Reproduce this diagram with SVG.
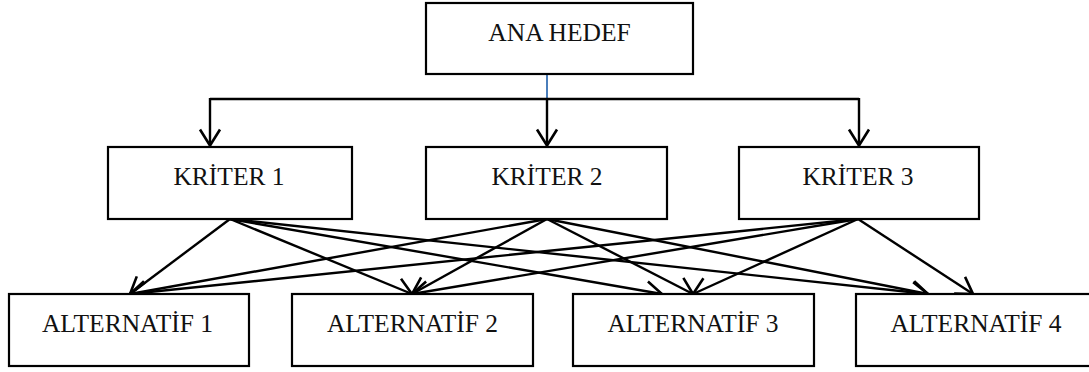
<svg xmlns="http://www.w3.org/2000/svg" width="1089" height="372" viewBox="0 0 1089 372">
<style>
.box{fill:#fff;stroke:#000;stroke-width:2.2}
.lbl{font-family:"Liberation Serif","Times New Roman",serif;font-size:25.5px;fill:#111;text-anchor:middle}
.ln{stroke:#000;stroke-width:2.4;fill:none}
.arr{stroke:#000;stroke-width:2.4;fill:none;marker-end:url(#ah)}
</style>
<defs>
<marker id="ah" markerUnits="userSpaceOnUse" markerWidth="30" markerHeight="30" refX="0" refY="0" viewBox="-20 -15 30 30" orient="auto" overflow="visible">
<path d="M-16,-10 L0,0 L-16,10" fill="none" stroke="#000" stroke-width="2.6"/>
</marker>
</defs>
<rect width="1089" height="372" fill="#fff"/>
<g id="connectors">
<line x1="547" y1="74" x2="547" y2="99" stroke="#4a7ebb" stroke-width="2"/>
<line class="ln" x1="210" y1="99" x2="859" y2="99"/>
<line class="arr" x1="210" y1="98" x2="210" y2="145.5"/>
<line class="arr" x1="547" y1="99" x2="547" y2="145.5"/>
<line class="arr" x1="859" y1="98" x2="859" y2="145.5"/>
<line class="arr" x1="230" y1="219" x2="130" y2="294"/>
<line class="arr" x1="230" y1="219" x2="412" y2="294"/>
<line class="arr" x1="230" y1="219" x2="662" y2="294"/>
<line class="arr" x1="230" y1="219" x2="928" y2="294"/>
<line class="arr" x1="547" y1="219" x2="130" y2="294"/>
<line class="arr" x1="547" y1="219" x2="412" y2="294"/>
<line class="arr" x1="547" y1="219" x2="693" y2="294"/>
<line class="arr" x1="547" y1="219" x2="928" y2="294"/>
<line class="arr" x1="858" y1="219" x2="130" y2="294"/>
<line class="arr" x1="858" y1="219" x2="412" y2="294"/>
<line class="arr" x1="858" y1="219" x2="693" y2="294"/>
<line class="arr" x1="858" y1="219" x2="973" y2="294"/>
</g>
<g id="ana-hedef">
<rect class="box" x="426" y="3" width="267" height="71"/>
<text class="lbl" x="559.5" y="41">ANA HEDEF</text>
</g>
<g id="kriter-1">
<rect class="box" x="108" y="147" width="244" height="72"/>
<text class="lbl" x="229" y="185">KRİTER 1</text>
</g>
<g id="kriter-2">
<rect class="box" x="426" y="147" width="241" height="72"/>
<text class="lbl" x="547" y="185">KRİTER 2</text>
</g>
<g id="kriter-3">
<rect class="box" x="739" y="147" width="240" height="72"/>
<text class="lbl" x="858" y="185">KRİTER 3</text>
</g>
<g id="alternatif-1">
<rect class="box" x="9" y="294" width="240" height="72"/>
<text class="lbl" x="127.5" y="332">ALTERNATİF 1</text>
</g>
<g id="alternatif-2">
<rect class="box" x="292" y="294" width="241" height="72"/>
<text class="lbl" x="412.5" y="332">ALTERNATİF 2</text>
</g>
<g id="alternatif-3">
<rect class="box" x="573" y="294" width="241" height="72"/>
<text class="lbl" x="693" y="332">ALTERNATİF 3</text>
</g>
<g id="alternatif-4">
<rect class="box" x="856" y="294" width="241" height="72"/>
<text class="lbl" x="976" y="332">ALTERNATİF 4</text>
</g>
</svg>
